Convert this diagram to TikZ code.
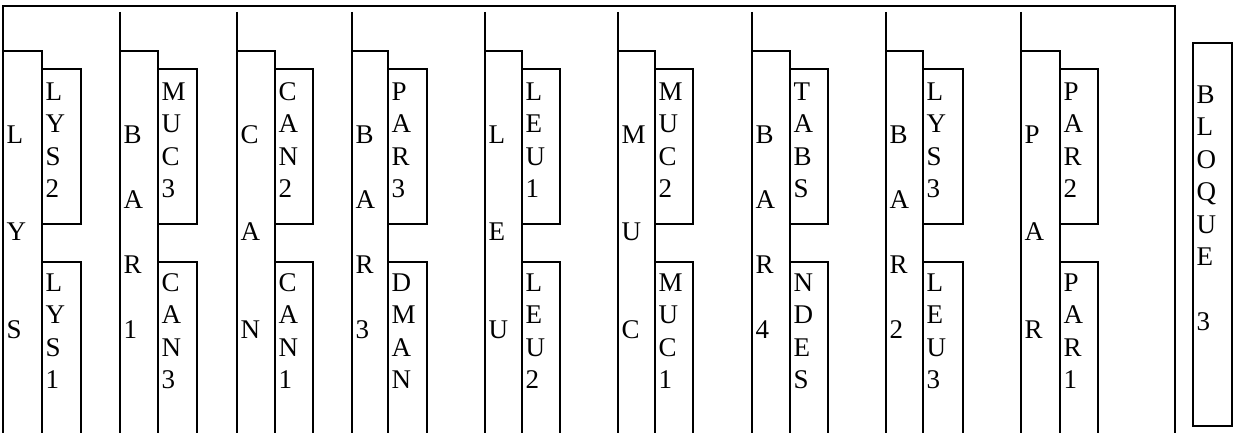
\documentclass[tikz,border=0pt]{standalone}
\usepackage{fontspec}
\setmainfont{Liberation Serif}
\newcommand{\colstack}[1]{\begin{tabular}[t]{@{}l@{}}#1\end{tabular}}
\begin{document}
\begin{tikzpicture}[x=1pt,y=-1pt,line width=1.9pt,
  box/.style={draw,rectangle,inner sep=0pt,outer sep=0pt,anchor=north west},
  lbl/.style={anchor=north west,inner sep=0pt,outer sep=0pt,font=\fontsize{27}{32.5}\selectfont}]
\useasboundingbox (0,0) rectangle (1241,433);
\clip (0,0) rectangle (1241,433);
% outer frame (open at the bottom)
\draw (3,445) -- (3,6) -- (1175,6) -- (1175,445);
\foreach \ka/\kb/\kc/\wa/\wb/\wc [count=\i] in {
   3/42/81/{L\\ \\ \\ Y\\ \\ \\ S}/{L\\Y\\S\\2}/{L\\Y\\S\\1},
   120/158/197/{B\\ \\ A\\ \\ R\\ \\ 1}/{M\\U\\C\\3}/{C\\A\\N\\3},
   237/275/313/{C\\ \\ \\ A\\ \\ \\ N}/{C\\A\\N\\2}/{C\\A\\N\\1},
   352/388/427/{B\\ \\ A\\ \\ R\\ \\ 3}/{P\\A\\R\\3}/{D\\M\\A\\N},
   485/522/560/{L\\ \\ \\ E\\ \\ \\ U}/{L\\E\\U\\1}/{L\\E\\U\\2},
   618/655/693/{M\\ \\ \\ U\\ \\ \\ C}/{M\\U\\C\\2}/{M\\U\\C\\1},
   752/790/828/{B\\ \\ A\\ \\ R\\ \\ 4}/{T\\A\\B\\S}/{N\\D\\E\\S},
   886/923/963/{B\\ \\ A\\ \\ R\\ \\ 2}/{L\\Y\\S\\3}/{L\\E\\U\\3},
   1021/1060/1098/{P\\ \\ \\ A\\ \\ \\ R}/{P\\A\\R\\2}/{P\\A\\R\\1}} {
  \ifnum\i>1 \draw (\ka,12) -- (\ka,445); \fi
  \node[box,minimum width={\kb-\ka},minimum height=400] (tall\i) at (\ka,51) {};
  \node[box,minimum width={\kc-\kb},minimum height=155] (up\i) at (\kb,69) {};
  \node[box,minimum width={\kc-\kb},minimum height=200] (low\i) at (\kb,262) {};
  \node[lbl] (talltext\i) at (\ka+3.5,120.6) {\colstack{\wa}};
  \node[lbl] (uptext\i) at (\kb+3.5,77.6) {\colstack{\wb}};
  \node[lbl] (lowtext\i) at (\kb+3.5,268.6) {\colstack{\wc}};
}
\node[box,minimum width=39,minimum height=383] (bloque) at (1193,43) {};
\node[lbl] (bloquetext) at (1196.5,80.6) {\colstack{B\\L\\O\\Q\\U\\E\\ \\3}};
\end{tikzpicture}
\end{document}
